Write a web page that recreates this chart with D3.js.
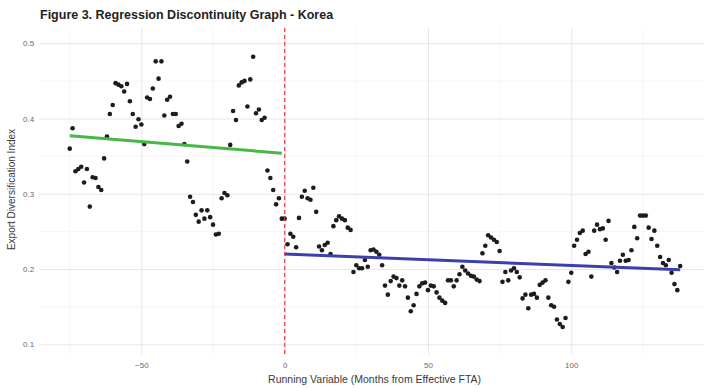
<!DOCTYPE html>
<html>
<head>
<meta charset="utf-8">
<script src="https://cdn.jsdelivr.net/npm/d3@7"></script>
<style>
  html, body { margin: 0; padding: 0; background: #fff; }
  svg { display: block; }
</style>
</head>
<body>
<svg id="chart" width="704" height="388"></svg>
<script>
// Export diversification index by month relative to the FTA effective date
const monthsBefore = d3.range(-75, 0);   // -75 .. -1
const monthsAfter = d3.range(0, 139);    // 0 .. 138

const valuesBefore = [
  0.360, 0.387, 0.330, 0.333, 0.336, 0.315, 0.333, 0.283, 0.322, 0.321, 0.309, 0.305,
  0.347, 0.376, 0.406, 0.418, 0.447, 0.445, 0.443, 0.436, 0.446, 0.423, 0.406, 0.389,
  0.399, 0.392, 0.366, 0.428, 0.426, 0.440, 0.476, 0.453, 0.476, 0.404, 0.425, 0.429,
  0.406, 0.406, 0.390, 0.393, 0.366, 0.343, 0.296, 0.289, 0.272, 0.263, 0.278, 0.267,
  0.278, 0.269, 0.259, 0.246, 0.247, 0.294, 0.301, 0.298, 0.365, 0.410, 0.398, 0.444,
  0.448, 0.450, 0.416, 0.452, 0.482, 0.407, 0.412, 0.398, 0.401, 0.331, 0.321, 0.305,
  0.286, 0.294, 0.267
];

const valuesAfter = [
  0.267, 0.233, 0.247, 0.243, 0.229, 0.268, 0.296, 0.304, 0.294, 0.292,
  0.308, 0.276, 0.230, 0.225, 0.232, 0.235, 0.220, 0.257, 0.265, 0.270,
  0.267, 0.265, 0.255, 0.252, 0.196, 0.205, 0.201, 0.201, 0.212, 0.203,
  0.225, 0.226, 0.223, 0.219, 0.205, 0.178, 0.166, 0.184, 0.190, 0.188,
  0.178, 0.185, 0.177, 0.162, 0.144, 0.152, 0.167, 0.177, 0.181, 0.182,
  0.172, 0.178, 0.177, 0.169, 0.162, 0.158, 0.155, 0.185, 0.185, 0.177,
  0.185, 0.193, 0.203, 0.198, 0.194, 0.191, 0.190, 0.186, 0.184, 0.221,
  0.231, 0.245, 0.242, 0.239, 0.236, 0.224, 0.183, 0.196, 0.185, 0.198,
  0.201, 0.196, 0.189, 0.161, 0.166, 0.148, 0.166, 0.167, 0.162, 0.179,
  0.182, 0.185, 0.162, 0.152, 0.150, 0.133, 0.127, 0.123, 0.135, 0.183,
  0.195, 0.231, 0.239, 0.248, 0.251, 0.220, 0.223, 0.190, 0.251, 0.259,
  0.253, 0.254, 0.239, 0.264, 0.208, 0.202, 0.196, 0.211, 0.219, 0.211,
  0.212, 0.225, 0.256, 0.241, 0.271, 0.271, 0.271, 0.255, 0.240, 0.251,
  0.231, 0.216, 0.208, 0.205, 0.212, 0.195, 0.180, 0.172, 0.204
];

// Linear fits on each side of the cutoff: [month, fitted value]
const fitBefore = [[-75, 0.377], [-1, 0.354]];
const fitAfter = [[0, 0.220], [138, 0.199]];

const cutoff = 0;

const xMajorTicks = [-50, 0, 50, 100];
const xMinorTicks = [-75, -25, 25, 75, 125];
const yMajorTicks = [0.1, 0.2, 0.3, 0.4, 0.5];
const yMinorTicks = [0.15, 0.25, 0.35, 0.45];

const titleText = "Figure 3. Regression Discontinuity Graph - Korea";
const xTitle = "Running Variable (Months from Effective FTA)";
const yTitle = "Export Diversification Index";

// ---- layout ----
const svg = d3.select("#chart");
const W = 704, H = 388;
const panel = { left: 39.2, right: 710.7, top: 28, bottom: 355 };

const x = d3.scaleLinear().domain([-85.65, 148.65]).range([panel.left, panel.right]);
const y = d3.scaleLinear().domain([0.0858, 0.5203]).range([panel.bottom, panel.top]);

svg.append("rect").attr("width", W).attr("height", H).attr("fill", "#fff");

const font = "'Liberation Sans', Arial, Helvetica, sans-serif";

// grid
const grid = svg.append("g");
grid.selectAll(".ymin").data(yMinorTicks).join("line")
  .attr("x1", panel.left).attr("x2", W)
  .attr("y1", d => y(d)).attr("y2", d => y(d))
  .attr("stroke", "#f2f2f2").attr("stroke-width", 0.7);
grid.selectAll(".xmin").data(xMinorTicks).join("line")
  .attr("y1", panel.top).attr("y2", panel.bottom)
  .attr("x1", d => x(d)).attr("x2", d => x(d))
  .attr("stroke", "#f2f2f2").attr("stroke-width", 0.7);

const yAxis = svg.append("g")
  .attr("transform", `translate(${panel.left},0)`)
  .call(d3.axisLeft(y).tickValues(yMajorTicks).tickFormat(d3.format(".1f"))
    .tickSize(-(W - panel.left)).tickPadding(5));
yAxis.select(".domain").remove();
yAxis.selectAll(".tick line").attr("stroke", "#e6e6e6").attr("stroke-width", 1);
yAxis.selectAll(".tick text")
  .attr("font-family", font).attr("font-size", 8).attr("fill", "#6a6a6a");

const xAxis = svg.append("g")
  .attr("transform", `translate(0,${panel.bottom})`)
  .call(d3.axisBottom(x).tickValues(xMajorTicks).tickFormat(d3.format("d"))
    .tickSize(-(panel.bottom - panel.top)).tickPadding(7));
xAxis.select(".domain").remove();
xAxis.selectAll(".tick line").attr("stroke", "#e6e6e6").attr("stroke-width", 1);
xAxis.selectAll(".tick text")
  .attr("font-family", font).attr("font-size", 8).attr("fill", "#6a6a6a");

// points
const pts = monthsBefore.map((m, i) => ({ m, v: valuesBefore[i] }))
  .concat(monthsAfter.map((m, i) => ({ m, v: valuesAfter[i] })));

svg.append("g").selectAll("circle").data(pts).join("circle")
  .attr("cx", d => x(d.m)).attr("cy", d => y(d.v))
  .attr("r", 2.3).attr("fill", "#1c1c1c");

// fitted lines
const line = d3.line().x(d => x(d[0])).y(d => y(d[1]));
svg.append("path").datum(fitBefore).attr("d", line)
  .attr("fill", "none").attr("stroke", "#44b944").attr("stroke-width", 3);
svg.append("path").datum(fitAfter).attr("d", line)
  .attr("fill", "none").attr("stroke", "#3c40ac").attr("stroke-width", 3);

// cutoff marker
svg.append("line")
  .attr("x1", x(cutoff)).attr("x2", x(cutoff))
  .attr("y1", panel.top).attr("y2", panel.bottom)
  .attr("stroke", "#f03c3c").attr("stroke-width", 1.2)
  .attr("stroke-dasharray", "4,3");

// titles
svg.append("text")
  .attr("x", 40).attr("y", 19)
  .attr("font-family", font).attr("font-weight", "bold")
  .attr("font-size", 12.5).attr("fill", "#222")
  .text(titleText);

svg.append("text")
  .attr("x", (panel.left + 704) / 2 + 3).attr("y", 383)
  .attr("text-anchor", "middle")
  .attr("font-family", font).attr("font-size", 10.5).attr("fill", "#3a3a3a")
  .text(xTitle);

svg.append("text")
  .attr("transform", `translate(15,${(panel.top + panel.bottom) / 2 - 2}) rotate(-90)`)
  .attr("text-anchor", "middle")
  .attr("font-family", font).attr("font-size", 10).attr("fill", "#3a3a3a")
  .text(yTitle);
</script>
</body>
</html>
